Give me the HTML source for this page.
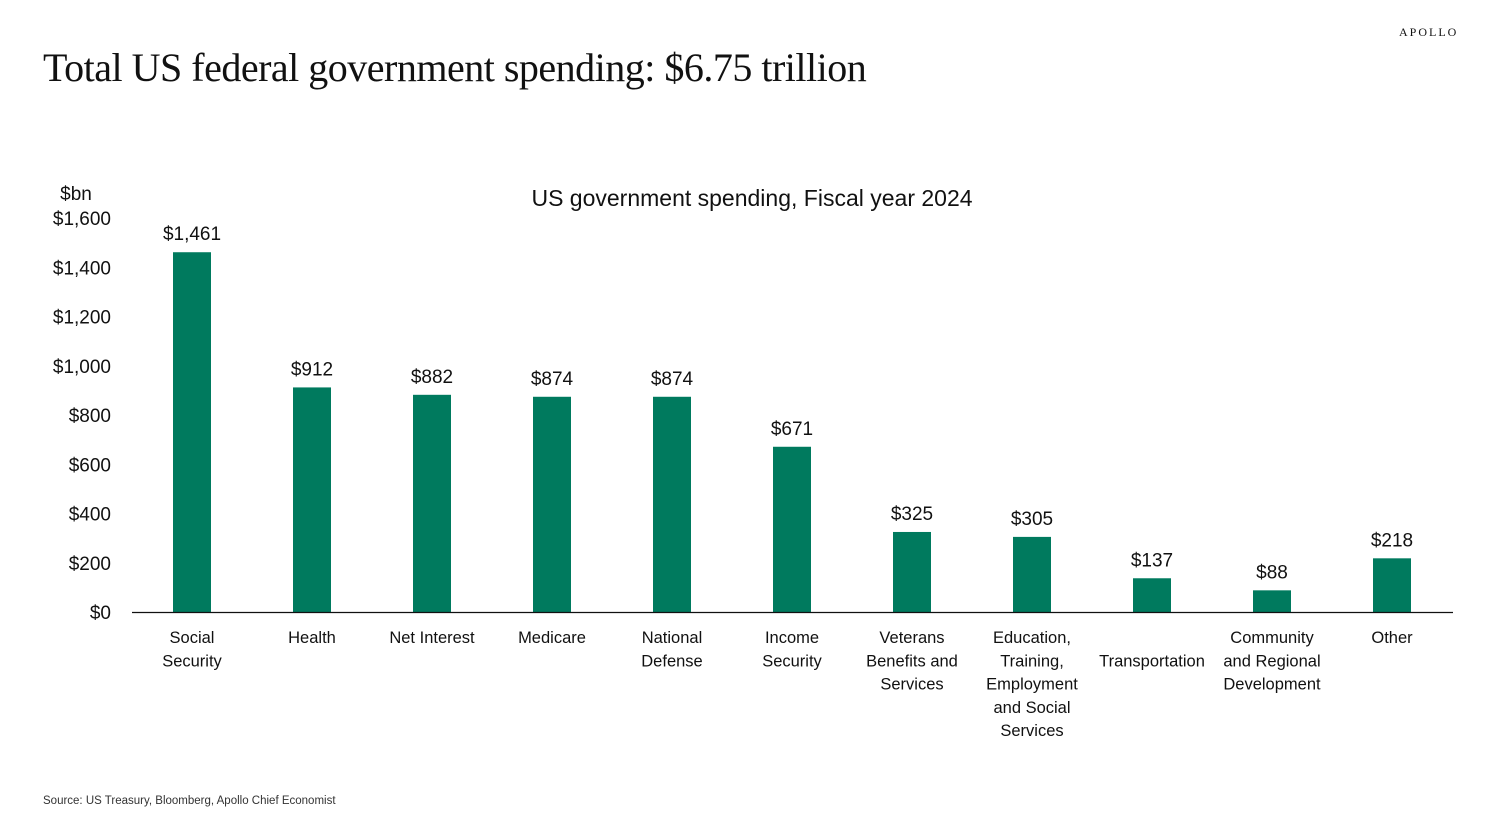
<!DOCTYPE html>
<html><head><meta charset="utf-8">
<style>
body{margin:0;width:1496px;height:834px;background:#fff;overflow:hidden;position:relative;font-family:"Liberation Sans",sans-serif;}
#title{position:absolute;left:43px;top:44px;font-family:"Liberation Serif",serif;font-size:40px;color:#111;letter-spacing:-0.5px;white-space:nowrap;}
#brand{position:absolute;left:1399px;top:25px;font-family:"Liberation Serif",serif;font-size:12px;letter-spacing:2px;color:#111;}
#source{position:absolute;left:43px;top:795px;font-size:11.5px;color:#333;}
svg{position:absolute;left:0;top:0;}
</style></head><body>
<div id="title">Total US federal government spending: $6.75 trillion</div>
<div id="brand">APOLLO</div>
<div id="source">Source: US Treasury, Bloomberg, Apollo Chief Economist</div>
<svg id="chart" width="1496" height="834"></svg>
<script>
const categories=[["Social","Security"],["Health"],["Net Interest"],["Medicare"],["National","Defense"],["Income","Security"],["Veterans","Benefits and","Services"],["Education,","Training,","Employment","and Social","Services"],["Transportation"],["Community","and Regional","Development"],["Other"]];
const values=[1461,912,882,874,874,671,325,305,137,88,218];
const valueLabels=["$1,461","$912","$882","$874","$874","$671","$325","$305","$137","$88","$218"];
const yTicks=[0,200,400,600,800,1000,1200,1400,1600];
const yTickLabels=["$0","$200","$400","$600","$800","$1,000","$1,200","$1,400","$1,600"];
const svg=document.getElementById('chart');
const NS='http://www.w3.org/2000/svg';
const y0=612,yTop=218,yMax=1600;
const y=v=>y0-(v/yMax)*(y0-yTop);
const x=i=>192+i*120;
function mk(tag,attrs,text){const e=document.createElementNS(NS,tag);for(const k in attrs)e.setAttribute(k,attrs[k]);if(text!==undefined)e.textContent=text;svg.appendChild(e);return e;}
let t=mk('text',{x:752,y:206,'text-anchor':'middle','font-size':23,fill:'#111'},'US government spending, Fiscal year 2024');


t=mk('text',{x:76,y:200,'text-anchor':'middle','font-size':19,fill:'#111'},'$bn');


yTicks.forEach((v,i)=>{const e=mk('text',{x:111,y:y(v)+7,'text-anchor':'end','font-size':19,fill:'#111'},yTickLabels[i]);

});
values.forEach((v,i)=>{
const r=mk('rect',{x:x(i)-19,y:y(v),width:38,height:y0-y(v),fill:'#007a5e'});


const l=mk('text',{x:x(i),y:y(v)-12,'text-anchor':'middle','font-size':19,fill:'#111'},valueLabels[i]);


const lines=categories[i];
const start=lines.length===1&&lines[0]==="Transportation"?1:0;
lines.forEach((s,j)=>{const c=mk('text',{x:x(i),y:643+(j+start)*23.3,'text-anchor':'middle','font-size':16.5,fill:'#111'},s);

});
});
const ax=mk('line',{x1:132,x2:1453,y1:y0+0.5,y2:y0+0.5,stroke:'#111','stroke-width':1.2});


</script>
</body></html>
